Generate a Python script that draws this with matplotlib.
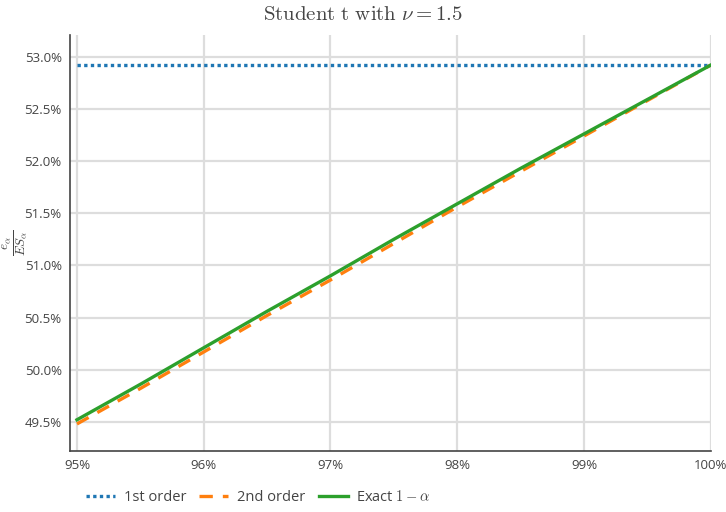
import numpy as np
import matplotlib.pyplot as plt
from matplotlib.ticker import FuncFormatter

plt.rcParams['font.family'] = ['Open Sans', 'DejaVu Sans']
plt.rcParams['mathtext.fontset'] = 'cm'

# confidence level alpha
alpha = [0.95, 0.955, 0.96, 0.965, 0.97, 0.975, 0.98, 0.985, 0.99, 0.995, 1.0]
first_order = [0.5292] * len(alpha)
second_order = [0.4948, 0.4982, 0.5017, 0.5052, 0.5086, 0.5121, 0.5156, 0.5190, 0.5224, 0.5258, 0.5292]
exact = [0.4952, 0.4986, 0.5021, 0.5056, 0.5090, 0.5125, 0.5159, 0.5193, 0.5226, 0.5259, 0.5292]

xticks = [0.95, 0.96, 0.97, 0.98, 0.99, 1.0]
yticks = [0.495, 0.50, 0.505, 0.51, 0.515, 0.52, 0.525, 0.53]

fig = plt.figure(figsize=(7.26, 5.12), dpi=100)
ax = fig.add_axes([0.0964, 0.119, 0.8826, 0.813])

ax.plot(alpha, first_order, color='#1f77b4', lw=2.4, ls=(0, (1, 1)), label='1st order')
ax.plot(alpha, second_order, color='#ff7f0e', lw=2.4, ls=(0, (4, 3)), label='2nd order')
ax.plot(alpha, exact, color='#2ca02c', lw=2.4, label=r'Exact $1-\alpha$')

ax.set_xlim(0.94945, 1.0)
ax.set_ylim(0.4922, 0.5321)
ax.set_xticks(xticks)
ax.set_yticks(yticks)
ax.xaxis.set_major_formatter(FuncFormatter(lambda v, p: f'{v*100:.0f}%'))
ax.yaxis.set_major_formatter(FuncFormatter(lambda v, p: f'{v*100:.1f}%'))
ax.grid(True, color='#dddddd', lw=1.6)
ax.set_axisbelow(True)
ax.tick_params(length=0, labelsize=9.5, colors='#444444', pad=6)
for s in ['top', 'right']:
    ax.spines[s].set_visible(False)
for s in ['left', 'bottom']:
    ax.spines[s].set_color('#444444')
    ax.spines[s].set_linewidth(1.2)

fig.text(0.022, 0.525, r'$\frac{e_\alpha}{ES_\alpha}$', fontsize=13.5, color='#444444',
         rotation=90, ha='center', va='center')
fig.suptitle(r'$\mathrm{Student\ t\ with\ }\nu = 1.5$', fontsize=15, color='#444444', y=0.993)

leg = fig.legend(loc='lower left', bbox_to_anchor=(0.1, -0.012), ncol=3, frameon=False,
                 fontsize=10.5, handlelength=2.0, handletextpad=0.6, columnspacing=0.9)
for t in leg.get_texts():
    t.set_color('#444444')

fig.savefig('out.png', dpi=100)
